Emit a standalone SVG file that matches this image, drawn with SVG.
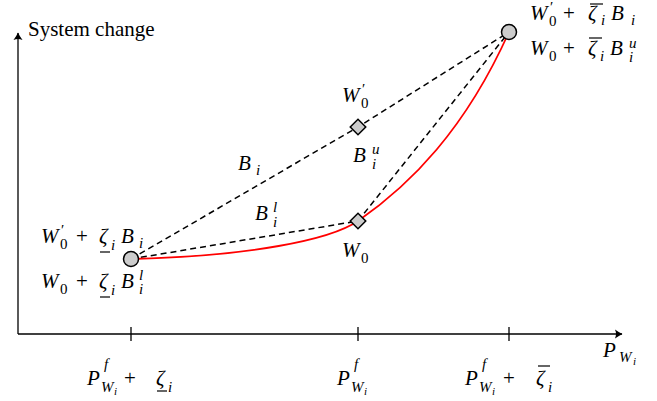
<svg xmlns="http://www.w3.org/2000/svg" width="657" height="401" viewBox="0 0 657 401">
<style>
text{font-family:"Liberation Serif","Times New Roman",serif;fill:#000;font-size:21px}
.m{font-style:italic}
.s{font-style:italic;font-size:15px}
.su{font-style:normal;font-size:15px}
.ss{font-style:italic;font-size:11px}
.ax{stroke:#000;stroke-width:1.3;fill:none}
.dash{stroke:#000;stroke-width:1.5;fill:none;stroke-dasharray:6 4}
.bar{stroke:#000;stroke-width:1.2}
.node{fill:#cccccc;stroke:#000;stroke-width:1.5}
</style>
<defs>
<marker id="arr" viewBox="-8 -5 9 10" refX="0" refY="0" markerWidth="9" markerHeight="10" markerUnits="userSpaceOnUse" orient="auto">
<path d="M-7,-4.5 Q-3,-1.5 0.5,0 Q-3,1.5 -7,4.5 Q-5,0 -7,-4.5 Z" fill="#000"/>
</marker>
</defs>
<g id="axes">
<line class="ax" x1="18" y1="334" x2="18" y2="33" marker-end="url(#arr)"/>
<line class="ax" x1="18" y1="334" x2="622" y2="334" marker-end="url(#arr)"/>
<line class="ax" x1="131" y1="327" x2="131" y2="341"/>
<line class="ax" x1="358" y1="327" x2="358" y2="341"/>
<line class="ax" x1="509" y1="327" x2="509" y2="341"/>
</g>
<g id="connectors">
<polyline class="dash" points="131,259 358,127 509,32"/>
<polyline class="dash" points="131,259 358,221 509,32"/>
<path d="M131,259 C250,256 330,240 358,221 C410,185 465,130 509,32" fill="none" stroke="#ff0000" stroke-width="1.8"/>
</g>
<g id="node-left"><circle class="node" cx="131" cy="259" r="7.5"/></g>
<g id="node-right"><circle class="node" cx="509" cy="32" r="7.5"/></g>
<g id="node-w0p"><rect class="node" x="352.5" y="121.5" width="11" height="11" transform="rotate(45 358 127)"/></g>
<g id="node-w0"><rect class="node" x="352.5" y="215.5" width="11" height="11" transform="rotate(45 358 221)"/></g>
<g id="labels" font-family="Liberation Serif, Times New Roman, serif">
<text x="28" y="36">System change</text>
<text><tspan x="530" y="20" class="m">W</tspan><tspan x="550" y="12" class="su">′</tspan><tspan x="549" y="26" class="su">0</tspan><tspan x="563" y="20">+</tspan><tspan x="588" y="20" class="m">ζ</tspan><tspan x="601" y="25" class="s">i</tspan><tspan x="611" y="20" class="m">B</tspan><tspan x="631" y="25" class="s">i</tspan></text>
<line class="bar" x1="590" y1="4" x2="603" y2="4"/>
<text><tspan x="530" y="55" class="m">W</tspan><tspan x="549" y="61" class="su">0</tspan><tspan x="563" y="55">+</tspan><tspan x="588" y="55" class="m">ζ</tspan><tspan x="600" y="61" class="s">i</tspan><tspan x="610" y="55" class="m">B</tspan><tspan x="629" y="48" class="s">u</tspan><tspan x="629" y="62" class="s">i</tspan></text>
<line class="bar" x1="589" y1="38" x2="602" y2="38"/>
<text><tspan x="41" y="243" class="m">W</tspan><tspan x="61" y="235" class="su">′</tspan><tspan x="60" y="249" class="su">0</tspan><tspan x="76" y="243">+</tspan><tspan x="99" y="243" class="m">ζ</tspan><tspan x="111" y="250" class="s">i</tspan><tspan x="121" y="243" class="m">B</tspan><tspan x="139" y="248" class="s">i</tspan></text>
<line class="bar" x1="100" y1="252" x2="110" y2="252"/>
<text><tspan x="41" y="288" class="m">W</tspan><tspan x="60" y="294" class="su">0</tspan><tspan x="76" y="288">+</tspan><tspan x="99" y="288" class="m">ζ</tspan><tspan x="111" y="295" class="s">i</tspan><tspan x="121" y="288" class="m">B</tspan><tspan x="139" y="280" class="s">l</tspan><tspan x="139" y="294" class="s">i</tspan></text>
<line class="bar" x1="100" y1="297" x2="110" y2="297"/>
<text><tspan x="342" y="102" class="m">W</tspan><tspan x="362" y="94" class="su">′</tspan><tspan x="361" y="108" class="su">0</tspan></text>
<text><tspan x="353" y="162" class="m">B</tspan><tspan x="372" y="154" class="s">u</tspan><tspan x="372" y="169" class="s">i</tspan></text>
<text><tspan x="342" y="257" class="m">W</tspan><tspan x="361" y="263" class="su">0</tspan></text>
<text><tspan x="238" y="170" class="m">B</tspan><tspan x="256" y="175" class="s">i</tspan></text>
<text><tspan x="255" y="220" class="m">B</tspan><tspan x="273" y="212" class="s">l</tspan><tspan x="273" y="227" class="s">i</tspan></text>
<text><tspan x="87" y="385" class="m">P</tspan><tspan x="104" y="369" class="s">f</tspan><tspan x="101" y="392" class="s">W</tspan><tspan x="114" y="395" class="ss">i</tspan><tspan x="124" y="385">+</tspan><tspan x="156" y="385" class="m">ζ</tspan><tspan x="168" y="392" class="s">i</tspan></text>
<line class="bar" x1="157" y1="391" x2="167" y2="391"/>
<text><tspan x="337" y="385" class="m">P</tspan><tspan x="354" y="369" class="s">f</tspan><tspan x="351" y="392" class="s">W</tspan><tspan x="364" y="395" class="ss">i</tspan></text>
<text><tspan x="465" y="385" class="m">P</tspan><tspan x="482" y="369" class="s">f</tspan><tspan x="479" y="392" class="s">W</tspan><tspan x="492" y="395" class="ss">i</tspan><tspan x="503" y="385">+</tspan><tspan x="536" y="385" class="m">ζ</tspan><tspan x="548" y="392" class="s">i</tspan></text>
<line class="bar" x1="538" y1="366" x2="550" y2="366"/>
<text><tspan x="603" y="357" class="m">P</tspan><tspan x="619" y="362" class="s">W</tspan><tspan x="633" y="365" class="ss">i</tspan></text>
</g>
</svg>
